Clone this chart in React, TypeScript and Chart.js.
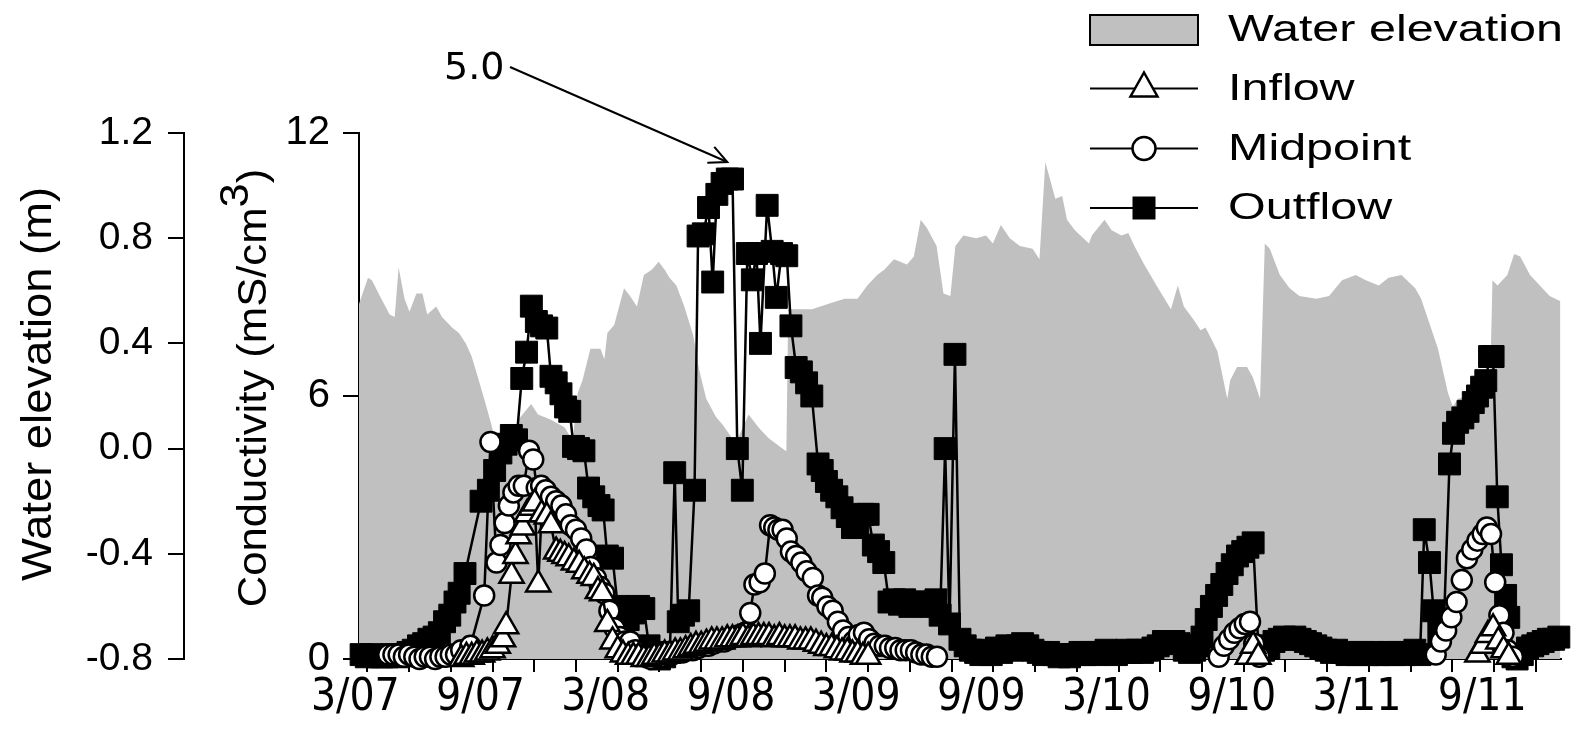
import React, { useEffect, useRef } from 'react';
import { Chart, registerables } from 'chart.js';

Chart.register(...registerables);

// x values are months since March 2007
const xTickMonths = [0, 2, 4, 6, 8, 10, 12, 14, 16, 18, 20, 22, 24, 26, 28, 30, 32, 34, 36, 38, 40, 42, 44, 46, 48, 50, 52, 54, 56];
const xLabelMonths = [0, 6, 12, 18, 24, 30, 36, 42, 48, 54];
const xLabelTexts = ['3/07', '9/07', '3/08', '9/08', '3/09', '9/09', '3/10', '9/10', '3/11', '9/11'];
const waterTicks = [-0.8, -0.4, 0, 0.4, 0.8, 1.2];
const condTicks = [0, 6, 12];
const legendLabels = ['Water elevation', 'Inflow', 'Midpoint', 'Outflow'];
const peakNoteText = '5.0';
const peakNoteMonth = 17.25;
const peakNoteValue = 10.95;

// [month, water elevation (m)]
const waterElevation: [number, number][] = [
  [-0.4, 0.55], [0.03, 0.65], [0.22, 0.64], [0.6, 0.58], [1.07, 0.51], [1.31, 0.5], [1.5, 0.69], [1.78, 0.57],
  [2.02, 0.52], [2.35, 0.59], [2.64, 0.59], [2.87, 0.51], [3.3, 0.54], [3.58, 0.5], [4.06, 0.46], [4.39, 0.44],
  [4.72, 0.4], [5.0, 0.35], [5.34, 0.26], [5.67, 0.17], [5.95, 0.09], [6.29, -0.02], [6.52, -0.06], [7.23, 0.11],
  [7.85, 0.17], [8.18, 0.13], [8.8, 0.11], [9.46, 0.08], [9.84, 0.03], [10.08, 0.21], [10.31, 0.26], [10.69, 0.38],
  [11.17, 0.38], [11.36, 0.34], [11.5, 0.44], [11.83, 0.47], [12.3, 0.61], [12.59, 0.58], [12.92, 0.54], [13.25, 0.66],
  [13.63, 0.68], [13.96, 0.71], [14.25, 0.68], [14.48, 0.65], [14.81, 0.62], [15.19, 0.54], [15.62, 0.43], [15.9, 0.3],
  [16.24, 0.19], [16.71, 0.12], [17.04, 0.09], [17.65, 0.02], [18.27, 0.13], [18.75, 0.08], [19.22, 0.04], [19.89, 0.0],
  [20.08, -0.01], [20.17, 0.53], [21.31, 0.53], [22.07, 0.55], [22.87, 0.57], [23.49, 0.57], [23.96, 0.62], [24.43, 0.66],
  [24.77, 0.68], [25.24, 0.72], [25.86, 0.7], [26.19, 0.73], [26.52, 0.87], [26.81, 0.84], [27.28, 0.77], [27.61, 0.59],
  [27.94, 0.58], [28.18, 0.77], [28.56, 0.81], [29.18, 0.8], [29.65, 0.81], [29.98, 0.78], [30.36, 0.85], [30.79, 0.8],
  [31.27, 0.77], [31.88, 0.76], [32.21, 0.72], [32.49, 1.09], [32.97, 0.95], [33.3, 0.96], [33.53, 0.87], [33.91, 0.83],
  [34.58, 0.78], [34.72, 0.81], [35.33, 0.87], [35.67, 0.83], [36.14, 0.81], [36.47, 0.82], [36.76, 0.77], [37.23, 0.7],
  [37.9, 0.61], [38.51, 0.53], [38.84, 0.62], [39.13, 0.54], [39.6, 0.49], [39.93, 0.45], [40.17, 0.46], [40.74, 0.37],
  [41.21, 0.19], [41.35, 0.26], [41.68, 0.31], [42.16, 0.31], [42.44, 0.27], [42.78, 0.19], [43.01, 0.78], [43.25, 0.76],
  [43.73, 0.66], [44.2, 0.61], [44.67, 0.58], [45.48, 0.57], [46.09, 0.58], [46.71, 0.64], [47.37, 0.66], [47.85, 0.64],
  [48.47, 0.62], [48.94, 0.65], [49.56, 0.66], [50.22, 0.61], [50.5, 0.57], [50.84, 0.49], [51.31, 0.38], [51.79, 0.21],
  [52.02, 0.16], [52.26, 0.19], [52.73, 0.2], [53.35, 0.27], [53.82, 0.3], [53.92, 0.64], [54.16, 0.62], [54.63, 0.66],
  [54.96, 0.74], [55.25, 0.73], [55.72, 0.66], [56.19, 0.62], [56.66, 0.58], [57.18, 0.56],
];

// [month, conductivity (mS/cm3)]
const inflow: [number, number | null][] = [
  [4.5, 0.0], [4.75, 0.05], [5.0, 0.05], [5.25, 0.1], [5.5, 0.1], [5.75, 0.15], [6.0, 0.2], [6.25, 0.3], [6.5, 0.45],
  [6.65, 0.75], [6.91, 1.9], [7.1, 2.35], [7.25, 2.8], [7.45, 3.0], [7.65, 3.3], [7.85, 3.45], [8.02, 3.55], [8.19, 1.7],
  [8.35, 3.3], [8.6, 3.25], [8.8, 3.05], [9.05, 2.45], [9.25, 2.4], [9.45, 2.35], [9.65, 2.3], [9.9, 2.2], [10.15, 2.15],
  [10.4, 2.0], [10.65, 1.9], [10.85, 1.85], [11.05, 1.55], [11.25, 1.5], [11.5, 0.8], [11.75, 0.4], [12.0, 0.2],
  [12.25, 0.1], [12.5, 0.05], [12.75, 0.05], [13.0, 0.05], [13.25, 0.0], [13.5, 0.0], [13.75, 0.05], [14.0, 0.05],
  [14.25, 0.1], [14.5, 0.1], [14.75, 0.15], [15.0, 0.15], [15.25, 0.2], [15.5, 0.25], [15.75, 0.3], [16.0, 0.3],
  [16.25, 0.35], [16.5, 0.4], [16.75, 0.4], [17.0, 0.4], [17.25, 0.45], [17.5, 0.45], [17.75, 0.45], [18.0, 0.5],
  [18.25, 0.45], [18.5, 0.5], [18.75, 0.5], [19.0, 0.5], [19.25, 0.5], [19.5, 0.45], [19.75, 0.5], [20.0, 0.45],
  [20.25, 0.45], [20.5, 0.45], [20.75, 0.4], [21.0, 0.4], [21.25, 0.4], [21.5, 0.35], [21.75, 0.3], [22.0, 0.25],
  [22.25, 0.25], [22.5, 0.2], [22.75, 0.15], [23.0, 0.15], [23.25, 0.1], [23.5, 0.1], [23.75, 0.05], [24.0, 0.05],
  [24.05, null],
  [42.2, 0.05], [42.45, 0.3], [42.7, 0.05], [42.75, null],
  [53.2, 0.1], [53.45, 0.3], [53.7, 0.55], [53.95, 0.7], [54.2, 0.4], [54.45, 0.2], [54.7, 0.05],
];

const midpoint: [number, number | null][] = [
  [1.0, 0.1], [1.25, 0.1], [1.5, 0.1], [1.75, 0.05], [2.0, 0.1], [2.25, 0.05], [2.5, 0.0], [2.75, 0.05], [3.0, 0.05],
  [3.25, 0.0], [3.5, 0.05], [3.75, 0.05], [4.0, 0.1], [4.25, 0.1], [4.5, 0.2], [4.94, 0.3], [5.6, 1.45], [5.9, 4.95],
  [6.19, 2.2], [6.38, 2.6], [6.58, 3.1], [6.78, 3.5], [7.0, 3.8], [7.25, 3.95], [7.5, 3.95], [7.75, 4.75], [7.95, 4.55],
  [8.12, 3.9], [8.33, 3.95], [8.55, 3.85], [8.8, 3.7], [9.05, 3.6], [9.3, 3.5], [9.52, 3.3], [9.75, 3.05], [10.0, 2.95],
  [10.25, 2.75], [10.5, 2.5], [10.71, 2.1], [10.95, 1.85], [11.15, 1.65], [11.35, 1.5], [11.6, 1.1], [11.85, 0.7],
  [12.1, 0.5], [12.35, 0.4], [12.6, 0.4], [12.85, 0.2], [13.1, 0.1], [13.35, 0.05], [13.6, 0.0], [13.85, 0.05],
  [14.1, 0.05], [14.35, 0.1], [14.6, 0.1], [14.85, 0.15], [15.1, 0.15], [15.35, 0.2], [15.6, 0.2], [15.85, 0.25],
  [16.1, 0.3], [16.35, 0.3], [16.6, 0.35], [16.85, 0.4], [17.1, 0.4], [17.35, 0.45], [17.6, 0.5], [17.85, 0.55],
  [18.1, 0.6], [18.35, 1.05], [18.55, 1.7], [18.8, 1.75], [19.05, 1.95], [19.3, 3.05], [19.5, 3.0], [19.7, 2.95],
  [19.9, 2.95], [20.1, 2.75], [20.3, 2.45], [20.55, 2.35], [20.8, 2.2], [21.05, 2.0], [21.35, 1.85], [21.6, 1.45],
  [21.8, 1.4], [22.05, 1.2], [22.3, 1.1], [22.55, 0.85], [22.8, 0.65], [23.05, 0.5], [23.3, 0.4], [23.55, 0.55],
  [23.8, 0.6], [24.05, 0.45], [24.3, 0.35], [24.55, 0.3], [24.8, 0.3], [25.05, 0.25], [25.3, 0.25], [25.55, 0.2],
  [25.8, 0.2], [26.05, 0.2], [26.3, 0.15], [26.55, 0.1], [26.8, 0.1], [27.05, 0.05], [27.3, 0.05], [27.35, null],
  [40.8, 0.05], [41.05, 0.3], [41.3, 0.45], [41.55, 0.6], [41.8, 0.7], [42.05, 0.8], [42.3, 0.85], [42.5, 0.35],
  [42.75, 0.05], [42.8, null],
  [51.2, 0.1], [51.45, 0.4], [51.7, 0.65], [51.95, 0.95], [52.2, 1.3], [52.45, 1.8], [52.7, 2.3], [52.95, 2.5],
  [53.2, 2.7], [53.45, 2.85], [53.65, 3.0], [53.85, 2.85], [54.05, 1.75], [54.25, 1.0], [54.45, 0.6], [54.65, 0.2],
  [54.9, 0.05],
];

const outflow: [number, number][] = [
  [-0.3, 0.1], [-0.05, 0.05], [0.2, 0.1], [0.45, 0.05], [0.7, 0.05], [0.95, 0.05], [1.2, 0.1], [1.45, 0.05], [1.7, 0.1],
  [1.95, 0.15], [2.2, 0.2], [2.45, 0.3], [2.7, 0.35], [2.95, 0.45], [3.2, 0.5], [3.45, 0.6], [3.7, 0.85], [3.95, 1.0],
  [4.2, 1.3], [4.4, 1.5], [4.68, 1.95], [5.45, 3.6], [5.8, 3.85], [6.1, 4.3], [6.4, 4.7], [6.65, 4.9], [6.9, 5.1],
  [7.15, 5.0], [7.4, 6.4], [7.63, 7.0], [7.86, 8.05], [8.1, 7.7], [8.35, 7.6], [8.6, 7.55], [8.8, 6.45],
  [9.05, 6.3], [9.28, 6.05], [9.5, 5.75], [9.7, 5.65], [9.88, 4.85], [10.12, 4.8], [10.38, 4.75], [10.6, 3.9],
  [10.85, 3.7], [11.1, 3.5], [11.3, 3.4], [11.5, 2.35], [11.75, 2.3], [12.0, 1.2], [12.25, 0.95], [12.5, 0.9],
  [12.75, 1.05], [13.0, 1.2], [13.25, 1.15], [13.5, 0.3], [13.75, 0.05], [14.0, 0.0], [14.25, 0.05], [14.5, 0.15],
  [14.73, 4.25], [14.9, 0.85], [15.15, 1.0], [15.4, 1.1], [15.68, 3.85], [15.85, 9.65], [16.1, 9.7], [16.35, 10.3],
  [16.55, 8.6], [16.75, 10.6], [17.0, 10.85], [17.25, 10.95], [17.5, 10.95], [17.73, 4.8], [17.97, 3.85], [18.21, 9.25],
  [18.45, 8.65], [18.65, 9.25], [18.84, 7.2], [19.16, 10.35], [19.4, 9.3], [19.6, 8.25], [19.85, 9.25], [20.1, 9.2],
  [20.3, 7.6], [20.55, 6.65], [20.8, 6.55], [21.05, 6.3], [21.3, 6.0], [21.6, 4.45], [21.8, 4.3], [22.0, 4.05],
  [22.25, 3.85], [22.5, 3.7], [22.75, 3.45], [23.0, 3.25], [23.25, 3.0], [23.5, 3.0], [23.75, 3.3], [24.0, 3.3],
  [24.25, 2.6], [24.5, 2.45], [24.75, 2.2], [25.0, 1.3], [25.25, 1.35], [25.5, 1.25], [25.75, 1.35], [26.0, 1.2],
  [26.25, 1.3], [26.5, 1.25], [26.75, 1.3], [27.0, 1.2], [27.25, 1.35], [27.45, 1.0], [27.69, 4.8], [27.9, 0.8],
  [28.16, 6.95], [28.4, 0.45], [28.65, 0.3], [28.9, 0.2], [29.15, 0.15], [29.4, 0.1], [29.65, 0.2], [29.9, 0.1],
  [30.15, 0.25], [30.4, 0.15], [30.65, 0.3], [30.9, 0.2], [31.15, 0.3], [31.4, 0.35], [31.65, 0.3], [31.9, 0.2],
  [32.15, 0.15], [32.4, 0.1], [32.65, 0.15], [32.9, 0.1], [33.15, 0.05], [33.4, 0.1], [33.65, 0.05], [33.9, 0.1],
  [34.15, 0.15], [34.4, 0.1], [34.65, 0.15], [34.9, 0.1], [35.15, 0.15], [35.4, 0.2], [35.65, 0.15], [35.9, 0.1],
  [36.15, 0.15], [36.4, 0.2], [36.65, 0.15], [36.9, 0.2], [37.15, 0.15], [37.4, 0.2], [37.65, 0.25], [37.9, 0.3],
  [38.15, 0.4], [38.4, 0.4], [38.65, 0.4], [38.9, 0.35], [39.15, 0.2], [39.4, 0.15], [39.65, 0.2], [39.85, 0.3],
  [40.0, 0.5], [40.2, 0.9], [40.45, 1.2], [40.7, 1.45], [40.95, 1.7], [41.2, 1.95], [41.45, 2.15], [41.7, 2.35],
  [41.95, 2.45], [42.2, 2.55], [42.45, 2.65], [42.7, 0.3], [42.95, 0.2], [43.2, 0.25], [43.45, 0.4], [43.7, 0.45],
  [43.95, 0.5], [44.2, 0.45], [44.45, 0.5], [44.7, 0.45], [44.95, 0.4], [45.2, 0.35], [45.45, 0.3], [45.7, 0.25],
  [45.95, 0.2], [46.2, 0.15], [46.45, 0.2], [46.7, 0.15], [46.95, 0.1], [47.2, 0.15], [47.45, 0.1], [47.7, 0.15],
  [47.95, 0.1], [48.2, 0.15], [48.45, 0.1], [48.7, 0.1], [48.95, 0.15], [49.2, 0.1], [49.45, 0.15], [49.7, 0.1],
  [49.95, 0.15], [50.2, 0.2], [50.45, 0.1], [50.65, 2.95], [50.9, 2.2], [51.1, 1.1], [51.35, 0.6], [51.6, 0.9],
  [51.86, 4.45], [52.05, 5.15], [52.25, 5.4], [52.5, 5.5], [52.75, 5.65], [53.0, 5.85], [53.2, 6.0], [53.4, 6.2],
  [53.6, 6.35], [53.78, 6.9], [53.95, 6.9], [54.15, 3.7], [54.35, 2.15], [54.55, 1.45], [54.7, 0.95], [54.9, 0.05],
  [55.1, 0.0], [55.35, 0.1], [55.6, 0.25], [55.85, 0.3], [56.1, 0.35], [56.35, 0.4], [56.6, 0.45], [56.85, 0.45],
  [57.1, 0.5],
];

const toPoints = (pairs: [number, number | null][]) => pairs.map(([x, y]) => ({ x, y }));

const SANS = '"Liberation Sans", Arial, sans-serif';
const NARROW = '"Liberation Sans Narrow", "Arial Narrow", "DejaVu Sans Condensed", sans-serif';

function drawStretchedText(ctx: CanvasRenderingContext2D, text: string, x: number, y: number, sx: number) {
  ctx.save();
  ctx.translate(x, y);
  ctx.scale(sx, 1);
  ctx.fillText(text, 0, 0);
  ctx.restore();
}

const decorPlugin = {
  id: 'decor',
  afterDraw(chart: any) {
    const ctx: CanvasRenderingContext2D = chart.ctx;
    ctx.save();
    ctx.fillStyle = '#000';
    ctx.strokeStyle = '#000';

    // ---- legend ----
    const lx0 = 1090, lx1 = 1198, lxm = 1144, ltx = 1228;
    const rows = [30, 88.5, 148.5, 208];
    ctx.fillStyle = '#c0c0c0';
    ctx.fillRect(lx0, rows[0] - 15, lx1 - lx0, 30);
    ctx.lineWidth = 2;
    ctx.strokeRect(lx0, rows[0] - 15, lx1 - lx0, 30);
    for (let i = 1; i < 4; i++) {
      ctx.beginPath();
      ctx.moveTo(lx0, rows[i]);
      ctx.lineTo(lx1, rows[i]);
      ctx.lineWidth = 2;
      ctx.stroke();
    }
    // triangle
    ctx.beginPath();
    ctx.moveTo(lxm, rows[1] - 16);
    ctx.lineTo(lxm + 13.5, rows[1] + 8);
    ctx.lineTo(lxm - 13.5, rows[1] + 8);
    ctx.closePath();
    ctx.fillStyle = '#fff';
    ctx.fill();
    ctx.lineWidth = 2.5;
    ctx.stroke();
    // circle
    ctx.beginPath();
    ctx.arc(lxm, rows[2], 11.5, 0, Math.PI * 2);
    ctx.fill();
    ctx.stroke();
    // square
    ctx.fillStyle = '#000';
    ctx.fillRect(lxm - 11.5, rows[3] - 11.5, 23, 23);

    ctx.fillStyle = '#000';
    ctx.font = `37px ${SANS}`;
    ctx.textAlign = 'left';
    ctx.textBaseline = 'middle';
    legendLabels.forEach((t, i) => drawStretchedText(ctx, t, ltx, rows[i] + 1, 1.31));

    // ---- axis titles ----
    ctx.font = `42px ${SANS}`;
    ctx.save();
    ctx.translate(39, 384);
    ctx.rotate(-Math.PI / 2);
    ctx.scale(1.08, 1);
    ctx.textAlign = 'center';
    ctx.fillText('Water elevation (m)', 0, 0);
    ctx.restore();

    ctx.font = `40px ${SANS}`;
    ctx.save();
    ctx.translate(255, 388);
    ctx.rotate(-Math.PI / 2);
    ctx.scale(1.09, 1);
    ctx.textAlign = 'left';
    const s1 = 'Conductivity (mS/cm';
    const w1 = ctx.measureText(s1).width;
    const w2 = ctx.measureText('3').width;
    const w3 = ctx.measureText(')').width;
    const start = -(w1 + w2 + w3) / 2;
    ctx.fillText(s1, start, 0);
    ctx.fillText('3', start + w1, -18);
    ctx.fillText(')', start + w1 + w2, 0);
    ctx.restore();

    // ---- peak annotation ----
    const xs = chart.scales.x;
    const ys = chart.scales.yCond;
    const tipX = xs.getPixelForValue(peakNoteMonth);
    const tipY = ys.getPixelForValue(peakNoteValue) - 17;
    ctx.font = '38px "DejaVu Sans", sans-serif';
    ctx.textBaseline = 'alphabetic';
    ctx.textAlign = 'left';
    ctx.fillText(peakNoteText, 444, 79);
    const sx = 510, sy = 67;
    ctx.lineWidth = 2;
    ctx.beginPath();
    ctx.moveTo(sx, sy);
    ctx.lineTo(tipX, tipY);
    ctx.stroke();
    const ang = Math.atan2(tipY - sy, tipX - sx);
    const hl = 20, ha = 0.45;
    ctx.beginPath();
    ctx.moveTo(tipX - hl * Math.cos(ang - ha), tipY - hl * Math.sin(ang - ha));
    ctx.lineTo(tipX, tipY);
    ctx.lineTo(tipX - hl * Math.cos(ang + ha), tipY - hl * Math.sin(ang + ha));
    ctx.stroke();

    ctx.restore();
  },
};

export default function App() {
  const canvasRef = useRef<HTMLCanvasElement | null>(null);

  useEffect(() => {
    if (!canvasRef.current) return;
    const axisGrid = (tickLength: number) => ({
      display: true,
      drawOnChartArea: false,
      drawTicks: true,
      tickLength,
      color: '#000',
      lineWidth: 2,
    });
    const axisBorder = { display: true, color: '#000', width: 2 };

    const chart = new Chart(canvasRef.current, {
      type: 'line',
      data: {
        datasets: [
          {
            label: 'Water elevation',
            data: toPoints(waterElevation),
            yAxisID: 'yWater',
            fill: 'start',
            backgroundColor: '#c0c0c0',
            borderColor: 'rgba(0,0,0,0)',
            borderWidth: 0,
            pointRadius: 0,
            tension: 0,
            order: 10,
          },
          {
            label: 'Outflow',
            data: toPoints(outflow),
            yAxisID: 'yCond',
            borderColor: '#000',
            borderWidth: 2.5,
            pointStyle: 'rect',
            pointRadius: 15.5,
            pointBackgroundColor: '#000',
            pointBorderColor: '#000',
            pointBorderWidth: 1,
            fill: false,
            tension: 0,
            clip: false,
            order: 3,
          },
          {
            label: 'Midpoint',
            data: toPoints(midpoint),
            yAxisID: 'yCond',
            borderColor: '#000',
            borderWidth: 2.5,
            pointStyle: 'circle',
            pointRadius: 10,
            pointBackgroundColor: '#fff',
            pointBorderColor: '#000',
            pointBorderWidth: 2.5,
            fill: false,
            tension: 0,
            spanGaps: false,
            clip: false,
            order: 2,
          },
          {
            label: 'Inflow',
            data: toPoints(inflow),
            yAxisID: 'yCond',
            borderColor: '#000',
            borderWidth: 2.5,
            pointStyle: 'triangle',
            pointRadius: 14,
            pointBackgroundColor: '#fff',
            pointBorderColor: '#000',
            pointBorderWidth: 2.5,
            fill: false,
            tension: 0,
            spanGaps: false,
            clip: false,
            order: 1,
          },
        ],
      } as any,
      options: {
        responsive: false,
        maintainAspectRatio: false,
        animation: false,
        devicePixelRatio: 1,
        events: [],
        layout: { padding: { top: 133, right: 3, bottom: 0, left: 0 } },
        plugins: {
          legend: { display: false },
          tooltip: { enabled: false },
        },
        scales: {
          x: {
            type: 'linear',
            min: -0.4,
            max: 57.18,
            afterBuildTicks: (axis: any) => {
              axis.ticks = xTickMonths.map((v) => ({ value: v }));
            },
            afterFit: (axis: any) => {
              axis.height = 82;
            },
            grid: axisGrid(13),
            border: axisBorder,
            ticks: {
              autoSkip: false,
              maxRotation: 0,
              minRotation: 0,
              padding: 0,
              labelOffset: -12,
              color: '#000',
              font: { family: NARROW, size: 44 },
              callback: (value: any) => {
                const i = xLabelMonths.indexOf(Number(value));
                return i >= 0 ? xLabelTexts[i] : '';
              },
            },
          },
          yWater: {
            type: 'linear',
            position: 'left',
            weight: 1,
            min: -0.8,
            max: 1.2,
            afterBuildTicks: (axis: any) => {
              axis.ticks = waterTicks.map((v) => ({ value: v }));
            },
            afterFit: (axis: any) => {
              axis.width = 184;
            },
            grid: axisGrid(16),
            border: axisBorder,
            ticks: {
              padding: 15,
              color: '#000',
              font: { family: SANS, size: 39 },
              callback: (value: any) => Number(value).toFixed(1),
            },
          },
          yCond: {
            type: 'linear',
            position: 'left',
            weight: 0,
            min: 0,
            max: 12,
            afterBuildTicks: (axis: any) => {
              axis.ticks = condTicks.map((v) => ({ value: v }));
            },
            afterFit: (axis: any) => {
              axis.width = 175;
            },
            grid: axisGrid(16),
            border: axisBorder,
            ticks: {
              padding: 13,
              color: '#000',
              font: { family: SANS, size: 40 },
              callback: (value: any) => String(value),
            },
          },
        },
      } as any,
      plugins: [decorPlugin],
    });
    return () => chart.destroy();
  }, []);

  return (
    <div style={{ position: 'fixed', left: 0, top: 0, width: 1577, height: 741, background: '#fff' }}>
      <canvas ref={canvasRef} width={1577} height={741} style={{ display: 'block', width: 1577, height: 741 }} />
    </div>
  );
}
